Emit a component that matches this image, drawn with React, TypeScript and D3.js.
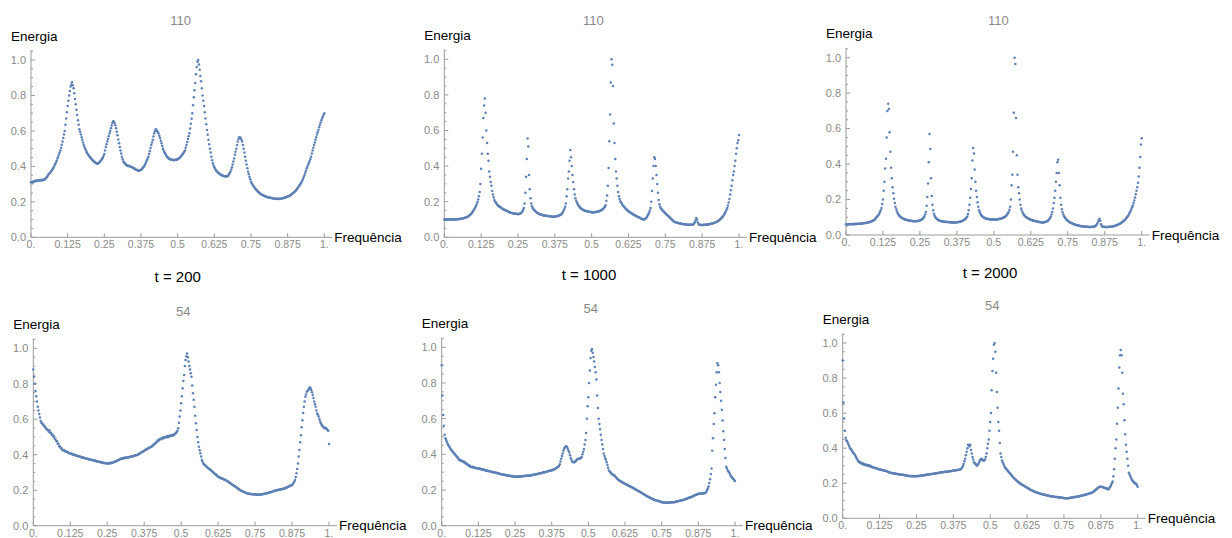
import React from "react";
import * as d3 from "d3";

// ---------- text / ticks ----------
const freqTicks = [0, 0.125, 0.25, 0.375, 0.5, 0.625, 0.75, 0.875, 1];
const freqTickLabels = ["0.", "0.125", "0.25", "0.375", "0.5", "0.625", "0.75", "0.875", "1."];
const energyTicks = [0, 0.2, 0.4, 0.6, 0.8, 1.0];
const energyTickLabels = ["0.0", "0.2", "0.4", "0.6", "0.8", "1.0"];
const energyMinorTicks = [0.05, 0.1, 0.15, 0.25, 0.3, 0.35, 0.45, 0.5, 0.55, 0.65, 0.7, 0.75, 0.85, 0.9, 0.95, 1.05];
const panelTitles = ["110", "110", "110", "54", "54", "54"];
const timeLabels = ["", "", "", "t = 200", "t = 1000", "t = 2000"];
const yLabel = "Energia";
const xLabel = "Frequência";

// ---------- data: energy sampled at frequency steps of 0.0025 (0 .. 1) ----------
const energy110_t200 = [
.310,.312,.308,.315,.314,.318,.316,.320,.318,.321,.319,.322,.320,.323,.321,.324,.322,.325,.324,.327,
.333,.337,.342,.348,.355,.360,.364,.370,.376,.381,.388,.395,.405,.414,.422,.432,.445,.455,.467,.478,
.490,.505,.522,.540,.560,.580,.600,.635,.670,.705,.740,.770,.800,.825,.850,.862,.875,.858,.840,.812,
.780,.750,.720,.690,.660,.635,.610,.595,.580,.565,.550,.535,.520,.510,.500,.490,.480,.472,.466,.460,
.455,.450,.445,.440,.435,.430,.426,.423,.420,.417,.415,.416,.418,.422,.426,.432,.438,.443,.448,.458,
.470,.490,.510,.525,.540,.555,.570,.585,.600,.615,.630,.645,.655,.652,.645,.632,.615,.595,.575,.552,
.530,.510,.490,.472,.455,.440,.428,.422,.417,.412,.408,.405,.404,.402,.403,.400,.398,.396,.395,.392,
.390,.388,.385,.382,.380,.378,.377,.376,.378,.379,.380,.384,.390,.395,.400,.407,.415,.425,.435,.445,
.455,.470,.485,.503,.520,.535,.550,.568,.585,.598,.610,.606,.600,.593,.585,.573,.560,.545,.530,.515,
.500,.490,.480,.472,.465,.458,.452,.448,.445,.442,.440,.438,.438,.437,.436,.435,.436,.437,.438,.439,
.440,.443,.446,.450,.455,.460,.465,.470,.475,.482,.490,.505,.520,.538,.555,.570,.587,.613,.640,.668,
.700,.745,.790,.830,.870,.920,.960,.990,1.00,.975,.945,.910,.880,.840,.800,.770,.740,.705,.670,.638,
.605,.578,.550,.525,.500,.478,.455,.435,.417,.405,.395,.387,.380,.374,.370,.366,.362,.359,.356,.353,
.350,.348,.347,.346,.345,.344,.343,.344,.345,.349,.355,.362,.370,.382,.395,.410,.427,.445,.465,.483,
.500,.520,.540,.555,.565,.563,.560,.550,.540,.520,.500,.478,.455,.432,.410,.390,.370,.355,.340,.327,
.314,.305,.298,.291,.285,.280,.274,.270,.265,.260,.256,.252,.248,.245,.242,.240,.238,.236,.234,.232,
.230,.229,.227,.226,.225,.224,.223,.222,.221,.220,.220,.219,.218,.218,.217,.217,.216,.217,.216,.218,
.217,.218,.219,.220,.222,.222,.224,.225,.227,.228,.230,.231,.233,.236,.239,.242,.245,.248,.251,.255,
.258,.263,.268,.274,.280,.286,.292,.298,.305,.312,.320,.330,.340,.352,.364,.376,.390,.400,.410,.420,
.430,.442,.455,.472,.490,.505,.520,.535,.550,.565,.580,.592,.605,.620,.635,.648,.660,.670,.680,.690,
.700];

const energy110_t1000 = [
.100,.101,.099,.100,.102,.100,.099,.101,.100,.102,.100,.101,.099,.101,.102,.100,.101,.102,.101,.103,
.102,.103,.104,.104,.105,.106,.107,.108,.110,.111,.113,.114,.116,.119,.122,.126,.130,.135,.141,.147,
.154,.160,.168,.176,.186,.198,.212,.230,.255,.300,.385,.470,.560,.670,.740,.780,.700,.600,.530,.470,
.430,.370,.340,.310,.290,.260,.240,.225,.210,.200,.195,.188,.182,.178,.175,.172,.170,.166,.163,.161,
.158,.156,.154,.152,.150,.148,.146,.144,.142,.140,.138,.137,.136,.135,.134,.133,.133,.132,.132,.131,
.130,.131,.132,.134,.136,.140,.146,.155,.165,.190,.250,.340,.440,.555,.510,.350,.270,.220,.190,.175,
.165,.158,.153,.149,.145,.141,.138,.135,.133,.131,.129,.127,.126,.125,.124,.123,.122,.121,.121,.120,
.120,.119,.119,.118,.118,.117,.117,.116,.116,.116,.117,.117,.118,.119,.120,.121,.123,.125,.127,.130,
.135,.142,.150,.160,.172,.190,.230,.270,.330,.370,.430,.490,.450,.400,.350,.310,.270,.240,.220,.205,
.195,.187,.180,.174,.168,.164,.160,.157,.155,.153,.151,.149,.148,.147,.146,.145,.144,.143,.142,.142,
.141,.140,.140,.141,.141,.142,.142,.143,.144,.145,.146,.148,.150,.152,.155,.158,.162,.166,.172,.180,
.205,.235,.290,.390,.540,.690,.870,1.00,.970,.850,.640,.530,.440,.370,.330,.290,.255,.230,.215,.203,
.195,.188,.182,.176,.171,.166,.162,.158,.154,.150,.147,.144,.141,.138,.135,.132,.129,.127,.125,.123,
.121,.118,.116,.114,.112,.110,.108,.106,.104,.102,.101,.100,.102,.105,.109,.114,.122,.130,.140,.150,
.165,.200,.260,.330,.400,.450,.440,.400,.350,.300,.250,.210,.185,.172,.163,.157,.152,.148,.144,.140,
.135,.131,.127,.123,.120,.116,.112,.107,.103,.099,.095,.092,.088,.086,.084,.083,.082,.081,.080,.079,
.078,.077,.076,.075,.075,.074,.073,.073,.072,.072,.071,.071,.071,.070,.070,.070,.070,.071,.072,.078,
.085,.095,.108,.100,.085,.075,.071,.070,.069,.069,.069,.069,.070,.070,.070,.071,.071,.072,.072,.073,
.074,.075,.076,.077,.078,.079,.080,.082,.084,.086,.088,.090,.093,.096,.099,.103,.107,.112,.117,.123,
.130,.137,.145,.155,.165,.178,.195,.215,.240,.265,.290,.320,.350,.370,.400,.430,.470,.500,.530,.545,
.575];

const energy110_t2000 = [
.060,.061,.059,.060,.061,.060,.062,.061,.060,.062,.061,.062,.061,.063,.062,.062,.063,.064,.063,.064,
.064,.065,.065,.066,.066,.067,.068,.068,.069,.070,.071,.072,.073,.075,.076,.078,.080,.082,.085,.088,
.094,.098,.103,.108,.113,.120,.130,.140,.152,.175,.200,.250,.300,.375,.430,.550,.700,.740,.710,.580,
.470,.380,.320,.270,.235,.205,.180,.160,.145,.133,.123,.116,.110,.105,.101,.098,.095,.093,.091,.089,
.087,.086,.085,.084,.083,.082,.081,.080,.080,.079,.079,.078,.078,.078,.078,.078,.079,.079,.080,.081,
.082,.084,.086,.089,.093,.098,.105,.115,.130,.165,.215,.290,.410,.570,.485,.320,.220,.170,.140,.120,
.108,.100,.094,.090,.087,.084,.082,.080,.079,.078,.077,.076,.076,.075,.075,.074,.074,.073,.073,.073,
.072,.072,.072,.071,.071,.071,.070,.071,.071,.071,.072,.072,.073,.074,.075,.076,.077,.079,.081,.083,
.086,.089,.093,.098,.105,.118,.140,.170,.210,.260,.320,.420,.490,.460,.370,.300,.250,.215,.185,.160,
.140,.128,.119,.112,.107,.103,.100,.097,.095,.093,.092,.091,.090,.089,.089,.088,.088,.087,.087,.087,
.087,.087,.088,.088,.088,.089,.089,.090,.091,.092,.093,.094,.096,.098,.100,.103,.106,.110,.115,.122,
.130,.142,.160,.200,.280,.340,.470,.690,1.00,.965,.660,.450,.340,.270,.235,.200,.170,.150,.137,.126,
.118,.112,.107,.103,.100,.097,.094,.092,.090,.088,.086,.085,.083,.082,.081,.080,.079,.078,.077,.076,
.075,.074,.073,.072,.072,.071,.071,.071,.072,.073,.074,.076,.078,.081,.085,.090,.096,.104,.115,.130,
.150,.180,.210,.250,.300,.350,.410,.425,.350,.280,.210,.170,.145,.128,.115,.106,.099,.093,.088,.084,
.080,.077,.074,.071,.069,.067,.065,.063,.061,.060,.058,.057,.056,.055,.054,.053,.052,.051,.050,.050,
.049,.048,.048,.047,.047,.046,.046,.046,.045,.045,.045,.045,.045,.046,.046,.047,.048,.050,.053,.058,
.065,.075,.085,.092,.080,.060,.050,.047,.046,.045,.045,.045,.045,.045,.045,.045,.046,.046,.046,.047,
.048,.049,.050,.051,.052,.053,.055,.057,.059,.061,.063,.065,.068,.071,.074,.077,.081,.085,.089,.094,
.100,.106,.112,.120,.128,.137,.147,.157,.167,.180,.195,.212,.230,.250,.270,.295,.330,.380,.440,.510,
.545];

const energy54_t200 = [
.880,.840,.800,.760,.730,.700,.670,.650,.630,.610,.590,.580,.577,.570,.565,.560,.558,.550,.545,.540,
.540,.530,.536,.522,.524,.512,.514,.502,.504,.490,.490,.478,.476,.462,.462,.448,.447,.438,.437,.428,
.427,.424,.425,.420,.418,.416,.417,.412,.410,.409,.408,.405,.406,.402,.401,.399,.400,.397,.395,.396,
.393,.391,.392,.388,.389,.386,.385,.383,.384,.381,.380,.379,.378,.377,.376,.374,.374,.372,.372,.371,
.370,.368,.369,.366,.367,.364,.363,.362,.361,.360,.360,.358,.357,.356,.355,.354,.354,.352,.353,.351,
.352,.350,.353,.351,.354,.352,.356,.355,.358,.358,.360,.362,.363,.366,.368,.370,.372,.375,.376,.378,
.380,.378,.382,.380,.384,.381,.385,.383,.386,.385,.387,.388,.390,.389,.392,.392,.394,.395,.397,.397,
.398,.400,.402,.405,.407,.410,.412,.415,.417,.420,.422,.425,.428,.430,.432,.435,.438,.440,.442,.444,
.445,.450,.452,.458,.460,.465,.468,.472,.480,.478,.485,.488,.490,.487,.494,.496,.492,.498,.500,.497,
.500,.505,.498,.506,.503,.508,.505,.510,.507,.512,.510,.515,.520,.522,.528,.535,.550,.580,.615,.650,
.690,.730,.775,.815,.850,.900,.934,.955,.970,.950,.925,.900,.880,.860,.840,.790,.746,.710,.670,.620,
.577,.540,.500,.470,.445,.425,.408,.390,.370,.360,.350,.345,.342,.338,.335,.330,.327,.322,.320,.317,
.314,.310,.306,.303,.298,.294,.292,.288,.284,.280,.276,.274,.272,.270,.268,.266,.265,.263,.261,.259,
.258,.255,.252,.250,.247,.244,.242,.238,.235,.232,.230,.227,.224,.221,.218,.215,.212,.209,.206,.203,
.200,.198,.196,.194,.192,.190,.188,.186,.185,.183,.182,.181,.180,.179,.178,.178,.177,.177,.176,.177,
.177,.176,.176,.175,.176,.175,.175,.176,.176,.177,.177,.178,.179,.180,.181,.182,.183,.184,.185,.187,
.188,.189,.190,.192,.193,.195,.196,.198,.199,.200,.200,.201,.202,.203,.204,.205,.206,.207,.208,.209,
.210,.212,.214,.216,.218,.220,.222,.224,.226,.228,.230,.235,.240,.248,.258,.275,.295,.320,.350,.390,
.427,.470,.510,.555,.595,.635,.670,.700,.727,.740,.755,.760,.765,.772,.780,.775,.765,.752,.737,.720,
.700,.685,.670,.650,.633,.625,.615,.600,.587,.578,.568,.563,.558,.553,.550,.552,.550,.545,.540,.535,
.460];

const energy54_t1000 = [
.900,.730,.620,.560,.510,.490,.480,.470,.460,.452,.445,.438,.430,.425,.420,.415,.410,.405,.400,.395,
.390,.383,.382,.373,.371,.366,.368,.362,.363,.358,.360,.353,.354,.347,.348,.341,.342,.336,.337,.331,
.330,.328,.330,.326,.327,.324,.325,.322,.323,.321,.320,.319,.320,.317,.318,.315,.316,.313,.314,.311,
.310,.308,.310,.306,.307,.305,.305,.302,.303,.301,.300,.299,.300,.297,.297,.295,.295,.293,.293,.291,
.290,.288,.289,.287,.287,.285,.285,.283,.284,.281,.280,.280,.281,.279,.279,.277,.278,.276,.277,.275,
.275,.274,.276,.274,.276,.275,.277,.275,.277,.276,.278,.277,.279,.278,.280,.279,.280,.281,.280,.282,
.280,.282,.283,.283,.285,.285,.286,.287,.288,.289,.290,.290,.292,.292,.294,.294,.296,.296,.298,.299,
.300,.300,.302,.303,.304,.305,.306,.308,.309,.310,.310,.312,.313,.315,.317,.320,.322,.325,.328,.332,
.335,.345,.360,.375,.390,.405,.420,.432,.440,.444,.445,.440,.430,.420,.410,.395,.380,.370,.360,.357,
.355,.356,.360,.363,.370,.372,.374,.376,.375,.378,.380,.385,.400,.415,.430,.455,.480,.520,.600,.670,
.720,.800,.870,.940,.980,.990,.970,.945,.920,.890,.860,.820,.730,.660,.600,.570,.540,.510,.480,.455,
.430,.405,.390,.378,.370,.355,.340,.325,.310,.305,.300,.295,.290,.287,.285,.282,.280,.275,.270,.265,
.260,.257,.254,.252,.249,.247,.244,.242,.240,.237,.235,.233,.231,.229,.226,.224,.222,.220,.218,.216,
.214,.211,.209,.207,.204,.202,.200,.197,.195,.193,.190,.188,.186,.183,.181,.178,.176,.173,.171,.168,
.165,.163,.161,.159,.157,.155,.153,.151,.149,.147,.145,.143,.142,.141,.140,.139,.138,.137,.136,.134,
.132,.131,.131,.130,.130,.130,.129,.129,.130,.129,.130,.130,.130,.131,.131,.131,.132,.132,.133,.134,
.135,.136,.137,.138,.139,.140,.141,.142,.143,.144,.145,.147,.148,.150,.151,.153,.155,.156,.158,.159,
.160,.162,.164,.166,.168,.170,.172,.174,.175,.177,.178,.179,.180,.180,.181,.181,.180,.181,.182,.183,
.185,.192,.200,.210,.220,.240,.260,.290,.320,.420,.490,.570,.630,.720,.790,.860,.910,.900,.860,.800,
.750,.700,.650,.590,.530,.480,.430,.380,.330,.320,.310,.305,.300,.290,.280,.275,.270,.265,.260,.255,
.250];

const energy54_t2000 = [
.900,.660,.570,.500,.460,.445,.440,.430,.420,.410,.400,.395,.390,.382,.375,.370,.365,.358,.350,.342,
.335,.325,.324,.318,.319,.312,.316,.309,.312,.306,.309,.303,.306,.301,.304,.299,.302,.296,.299,.293,
.292,.291,.289,.288,.287,.286,.285,.283,.281,.280,.279,.278,.277,.276,.275,.274,.272,.271,.270,.270,
.268,.266,.264,.262,.261,.260,.259,.258,.257,.256,.255,.255,.254,.253,.252,.252,.251,.250,.250,.249,
.249,.248,.248,.247,.246,.245,.245,.244,.243,.242,.242,.241,.241,.240,.240,.240,.240,.240,.241,.240,
.240,.241,.241,.242,.242,.243,.243,.244,.245,.245,.246,.246,.247,.248,.248,.249,.250,.250,.251,.251,
.252,.253,.253,.254,.255,.255,.256,.257,.258,.258,.259,.260,.261,.261,.262,.262,.263,.264,.264,.265,
.265,.266,.266,.267,.268,.268,.269,.270,.270,.271,.272,.272,.273,.274,.274,.275,.276,.277,.278,.279,
.280,.284,.290,.298,.310,.325,.340,.360,.380,.400,.420,.415,.410,.420,.390,.370,.350,.335,.320,.315,
.310,.305,.300,.305,.310,.320,.330,.335,.340,.336,.330,.332,.330,.335,.350,.370,.400,.425,.450,.500,
.550,.600,.730,.840,.910,.990,1.00,.950,.830,.720,.630,.550,.500,.430,.370,.350,.330,.320,.310,.300,
.290,.285,.280,.275,.270,.265,.260,.255,.250,.245,.240,.235,.230,.226,.222,.218,.214,.210,.207,.204,
.200,.197,.195,.192,.190,.187,.185,.182,.180,.177,.175,.172,.170,.167,.165,.162,.160,.158,.156,.154,
.152,.150,.148,.147,.146,.144,.143,.142,.140,.139,.138,.137,.136,.135,.134,.133,.132,.131,.130,.129,
.128,.127,.126,.126,.125,.124,.124,.123,.122,.122,.121,.121,.120,.119,.119,.118,.118,.117,.117,.116,
.116,.115,.115,.115,.114,.115,.115,.116,.116,.117,.118,.118,.119,.120,.121,.121,.122,.123,.124,.124,
.125,.126,.127,.128,.129,.130,.131,.132,.134,.135,.136,.137,.138,.140,.141,.142,.144,.145,.147,.149,
.152,.155,.160,.163,.166,.170,.173,.176,.178,.180,.180,.179,.178,.177,.175,.174,.172,.171,.170,.168,
.165,.168,.175,.182,.190,.200,.210,.240,.280,.340,.400,.450,.540,.630,.740,.860,.930,.960,.930,.830,
.710,.650,.560,.480,.420,.380,.340,.300,.260,.250,.240,.230,.220,.215,.210,.205,.200,.198,.195,.190,
.180];

const seriesList = [energy110_t200, energy110_t1000, energy110_t2000, energy54_t200, energy54_t1000, energy54_t2000];

// ---------- layout (pixels) ----------
const layout = [
  { left: 31, right: 324.3, bottom: 237.3, top: 60, title: [180.7, 20.7], time: [0, 0] },
  { left: 444.3, right: 739, bottom: 237.3, top: 59.3, title: [593.3, 20.7], time: [0, 0] },
  { left: 846, right: 1141.7, bottom: 235, top: 57.7, title: [998.3, 20], time: [0, 0] },
  { left: 33.3, right: 329, bottom: 525.7, top: 348.3, title: [183.3, 311.7], time: [177.7, 276.7] },
  { left: 441.7, right: 735, bottom: 525.7, top: 347.3, title: [590.7, 308.3], time: [589, 275] },
  { left: 842.7, right: 1137.7, bottom: 518.3, top: 343, title: [992.3, 305], time: [990, 272.3] },
];

const DOT = "#5e81b5";
const AXIS = "#9a9a9a";
const TICKTXT = "#8a8a8a";
const FONT = "'Liberation Sans', Arial, sans-serif";

function Panel({ idx }: { idx: number }) {
  const L = layout[idx];
  const data = seriesList[idx];
  const x = d3.scaleLinear().domain([0, 1]).range([L.left, L.right]);
  const y = d3.scaleLinear().domain([0, 1]).range([L.bottom, L.top]);
  const n = data.length;
  return (
    <g>
      {/* axes */}
      <line x1={x(0)} x2={x(1.027)} y1={y(0)} y2={y(0)} stroke={AXIS} strokeWidth={1} />
      <line x1={x(0)} x2={x(0)} y1={y(0)} y2={y(1.055)} stroke={AXIS} strokeWidth={1} />
      {freqTicks.map((t, i) => (
        <g key={"xt" + i}>
          <line x1={x(t)} x2={x(t)} y1={y(0)} y2={y(0) - 4} stroke={AXIS} />
          <text x={x(t)} y={y(0) + 11} fontSize={10.5} fill={TICKTXT} textAnchor="middle" fontFamily={FONT}>
            {freqTickLabels[i]}
          </text>
        </g>
      ))}
      {energyTicks.map((t, i) => (
        <g key={"yt" + i}>
          <line x1={x(0)} x2={x(0) + 4} y1={y(t)} y2={y(t)} stroke={AXIS} />
          <text x={x(0) - 5} y={y(t)} dy="0.35em" fontSize={11} fill={TICKTXT} textAnchor="end" fontFamily={FONT}>
            {energyTickLabels[i]}
          </text>
        </g>
      ))}
      {energyMinorTicks.map((t, i) => (
        <line key={"ym" + i} x1={x(0)} x2={x(0) + 2} y1={y(t)} y2={y(t)} stroke={AXIS} />
      ))}
      {/* labels */}
      <text x={x(0) - 20} y={L.top - 24} dy="0.35em" fontSize={13.5} fill="#000" fontFamily={FONT}>
        {yLabel}
      </text>
      <text x={L.right + 10} y={y(0)} dy="0.35em" fontSize={13.5} fill="#000" fontFamily={FONT}>
        {xLabel}
      </text>
      <text x={L.title[0]} y={L.title[1]} dy="0.35em" fontSize={13} fill={TICKTXT} textAnchor="middle" fontFamily={FONT}>
        {panelTitles[idx]}
      </text>
      {timeLabels[idx] && (
        <text x={L.time[0]} y={L.time[1]} dy="0.35em" fontSize={15} fill="#000" textAnchor="middle" fontFamily={FONT}>
          {timeLabels[idx]}
        </text>
      )}
      {/* points */}
      {data.map((v, i) => (
        <circle key={i} cx={x(i / (n - 1))} cy={y(v)} r={1.25} fill={DOT} />
      ))}
    </g>
  );
}

export default function App() {
  return (
    <svg
      width={1232}
      height={538}
      style={{ position: "absolute", left: 0, top: 0, background: "#fff" }}
    >
      {layout.map((_, i) => (
        <Panel key={i} idx={i} />
      ))}
    </svg>
  );
}
